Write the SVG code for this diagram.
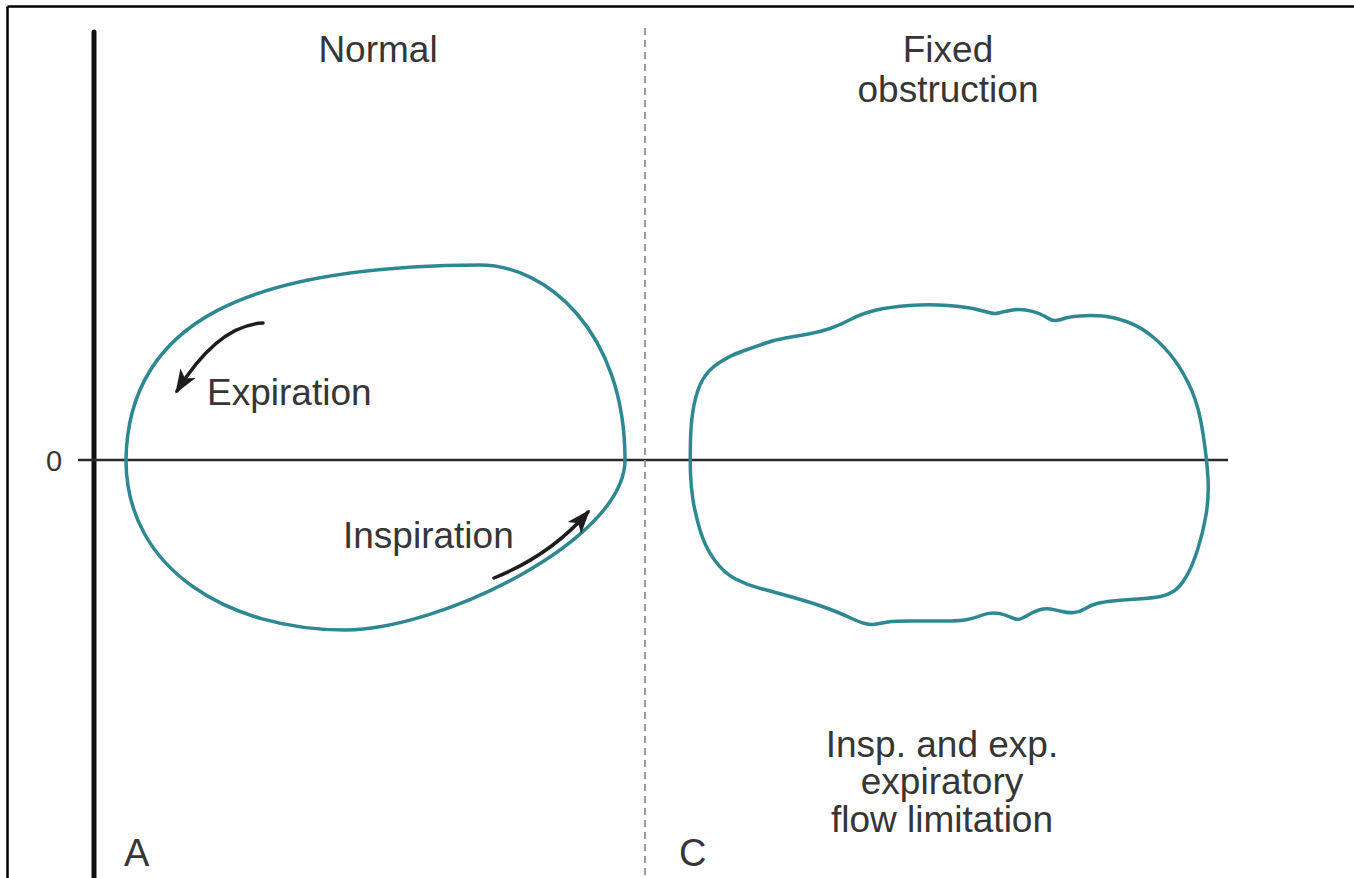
<svg xmlns="http://www.w3.org/2000/svg" width="1354" height="878" viewBox="0 0 1354 878">
  <style>
    .lbl { font-family: "Liberation Sans", Arial, Helvetica, sans-serif; fill: #363636; font-size: 37px; }
    .mid { text-anchor: middle; }
    .loop { fill: none; stroke: #2e8891; stroke-width: 3.5; stroke-linejoin: round; }
    .dir { fill: none; stroke: #1e1e1e; stroke-width: 3.5; stroke-linecap: round; }
  </style>
  <defs>
    <marker id="head" markerUnits="userSpaceOnUse" viewBox="0 0 24 18" refX="21" refY="9" markerWidth="24" markerHeight="18" orient="auto">
      <path d="M0,0 L24,9 L0,18 L6,9 z" fill="#1e1e1e"/>
    </marker>
  </defs>

  <rect x="0" y="0" width="1354" height="878" fill="#ffffff"/>

  <!-- outer frame (top and left edges) -->
  <g id="frame" stroke="#000" stroke-width="2.5" fill="none">
    <line x1="7.5" y1="6.5" x2="1354" y2="6.5"/>
    <line x1="7.5" y1="6.5" x2="7.5" y2="878"/>
  </g>

  <!-- axes and panel divider -->
  <g id="axes">
    <line x1="94" y1="32" x2="94" y2="878" stroke="#111" stroke-width="5" stroke-linecap="round"/>
    <line x1="78" y1="460" x2="1228" y2="460" stroke="#2a2a2a" stroke-width="2.5"/>
    <line x1="645" y1="28" x2="645" y2="878" stroke="#9a9a9a" stroke-width="2" stroke-dasharray="7 5"/>
    <text class="lbl" x="46" y="471" style="font-size:29px">0</text>
  </g>

  <!-- panel A: normal flow-volume loop -->
  <g id="panel-normal">
    <path class="loop" d="M126,460 C128,320 250,266 480,265 C545,265 625,330 625,460 C625,540 440,630 345,630 C230,630 126,570 126,460 Z"/>
    <text class="lbl mid" x="378" y="62">Normal</text>
    <text class="lbl" x="124" y="866" style="font-size:38px">A</text>
  </g>

  <g id="arrow-expiration">
    <path class="dir" d="M263,323 Q218,325 177,391" marker-end="url(#head)"/>
    <text class="lbl" x="207" y="405">Expiration</text>
  </g>

  <g id="arrow-inspiration">
    <path class="dir" d="M494,578 Q551,555 588,512" marker-end="url(#head)"/>
    <text class="lbl" x="343" y="548">Inspiration</text>
  </g>

  <!-- panel C: fixed obstruction loop -->
  <g id="panel-fixed">
    <path class="loop" d="M690.5,473.5 Q690,460 690.5,440 Q691,420 694,405 Q697,390 702.5,380 Q708,370 719.5,362.5 Q731,355 743,351 Q755,347 764.5,343.5 Q774,340 785.5,338 Q797,336 808.5,334 Q820,332 830,328.5 Q840,325 851.5,319 Q863,313 876.5,310 Q890,307 909.5,305.5 Q929,304 948,305.5 Q967,307 977,309.5 Q987,312 991,313 Q995,314 998.5,313 Q1002,312 1010,310.5 Q1018,309 1025.5,310 Q1033,311 1039,313.5 Q1045,316 1048.5,318.5 Q1052,321 1056,320.5 Q1060,320 1064,318.5 Q1068,317 1079.5,316 Q1091,315 1102.5,316 Q1114,317 1127.5,322 Q1141,327 1153,337 Q1165,347 1174.5,360 Q1184,373 1191.5,390 Q1199,407 1203,433.5 Q1207,460 1208,478.5 Q1209,497 1206,515 Q1203,533 1197.5,550 Q1192,567 1186,577 Q1180,587 1174,591 Q1168,595 1160.5,596.5 Q1153,598 1137.5,599 Q1122,600 1112.5,601 Q1103,602 1097,603.5 Q1091,605 1085.5,608.5 Q1080,612 1074,612.5 Q1068,613 1062,611.5 Q1056,610 1050.5,609 Q1045,608 1039,610 Q1033,612 1029,614.5 Q1025,617 1021.5,618.5 Q1018,620 1014,618.5 Q1010,617 1005,615 Q1000,613 993.5,613 Q987,613 981,615.5 Q975,618 967.5,619.5 Q960,621 944.5,621 Q929,621 911.5,621 Q894,621 888,622 Q882,623 876.5,624 Q871,625 865,623.5 Q859,622 849.5,617.5 Q840,613 826.5,608 Q813,603 793.5,597.5 Q774,592 760.5,588.5 Q747,585 735.5,579 Q724,573 714.5,560 Q705,547 700,530 Q695,513 693,500 Q691,487 690.5,473.5 Z"/>
    <text class="lbl mid" x="948" y="62">Fixed</text>
    <text class="lbl mid" x="948" y="102">obstruction</text>
    <text class="lbl mid" x="942" y="757">Insp. and exp.</text>
    <text class="lbl mid" x="942" y="794">expiratory</text>
    <text class="lbl mid" x="942" y="832">flow limitation</text>
    <text class="lbl" x="679" y="866" style="font-size:38px">C</text>
  </g>
</svg>
